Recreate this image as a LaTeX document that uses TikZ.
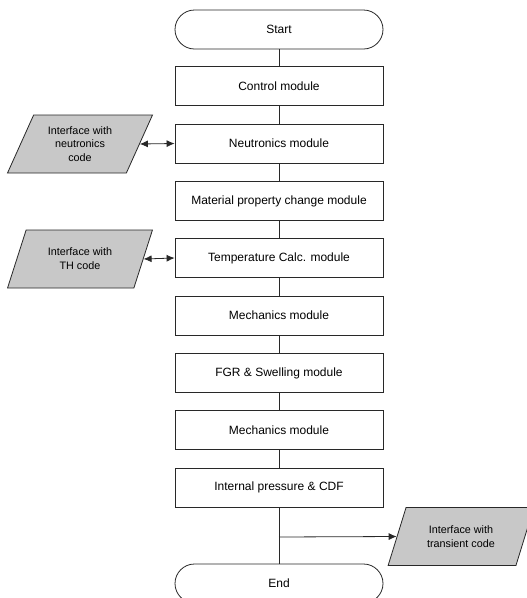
\documentclass[tikz,border=0pt]{standalone}
\usepackage{fontspec}
\setmainfont{Liberation Sans}
\usetikzlibrary{shapes.geometric,arrows.meta}
\definecolor{ifill}{RGB}{200,200,200}
\definecolor{lc}{RGB}{40,40,40}
\tikzset{
  modbox/.style={draw=lc, line width=0.8pt, fill=white, minimum width=208pt, minimum height=39pt, inner sep=0pt, font=\fontsize{12}{14}\selectfont},
  termbox/.style={modbox, rounded corners=19.5pt},
  iface/.style={draw=lc, line width=0.8pt, fill=ifill, trapezium, trapezium left angle=63, trapezium right angle=117, trapezium stretches=true, minimum width=146pt, minimum height=58pt, inner sep=0pt, align=center, font=\fontsize{10.8}{13.8}\selectfont},
  flow/.style={draw=lc, line width=0.8pt},
  arr/.style={flow, -{Latex[length=8pt,width=7pt]}},
  darr/.style={flow, {Latex[length=8pt,width=7pt]}-{Latex[length=8pt,width=7pt]}}
}
\begin{document}
\begin{tikzpicture}[x=1pt,y=-1pt]
\clip (0,0) rectangle (527,598);
\fill[white] (0,0) rectangle (527,598);
\node[termbox] (start) at (279,29.5) {Start};
\node[modbox] (ctrl) at (279,86) {Control module};
\node[modbox] (neut) at (279,143.5) {Neutronics module};
\node[modbox] (mat) at (279,201) {Material property change module};
\node[modbox] (temp) at (279,258) {Temperature Calc. module};
\node[modbox] (mech1) at (279,315.5) {Mechanics module};
\node[modbox] (fgr) at (279,373) {FGR \& Swelling module};
\node[modbox] (mech2) at (279,430) {Mechanics module};
\node[modbox] (ipc) at (279,487.5) {Internal pressure \& CDF};
\node[termbox] (end) at (279,583.5) {End};
\node[iface] (ifn) at (80,144) {Interface with\\neutronics\\code};
\node[iface] (ith) at (80,259) {Interface with\\TH code};
\node[iface] (itr) at (461,536.5) {Interface with\\transient code};
\draw[flow] (start) -- (ctrl);
\draw[flow] (ctrl) -- (neut);
\draw[flow] (neut) -- (mat);
\draw[flow] (mat) -- (temp);
\draw[flow] (temp) -- (mech1);
\draw[flow] (mech1) -- (fgr);
\draw[flow] (fgr) -- (mech2);
\draw[flow] (mech2) -- (ipc);
\draw[flow] (ipc) -- (end);
\coordinate (br) at (279,537);
\draw[arr] (br) -- (itr.west);
\draw[darr] (ifn.east) -- (neut.west);
\draw[darr] (ith.east) -- (temp.west);
\end{tikzpicture}
\end{document}
